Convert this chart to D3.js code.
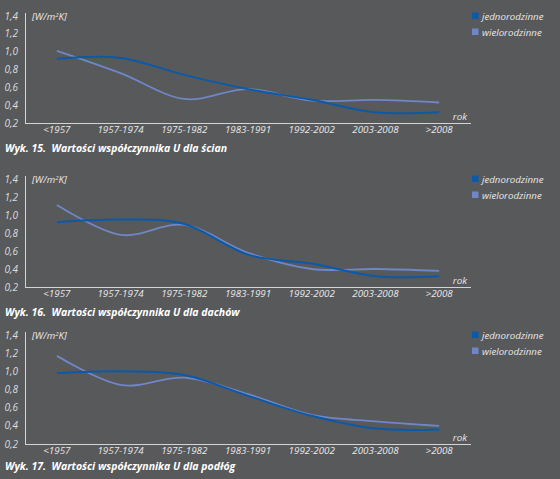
<!DOCTYPE html>
<html><head><meta charset="utf-8">
<script src="https://cdn.jsdelivr.net/npm/d3@7"></script>
<style>
html,body{margin:0;padding:0;background:#58595b;}
svg{display:block;}
text{font-family:"Open Sans",sans-serif;}
</style></head>
<body>
<script>
const categories = ["<1957","1957-1974","1975-1982","1983-1991","1992-2002","2003-2008",">2008"];
const yTicks = [0.2,0.4,0.6,0.8,1.0,1.2,1.4];
const seriesNames = ["jednorodzinne","wielorodzinne"];
const titles = [
  "Wyk. 15.  Wartości współczynnika U dla ścian",
  "Wyk. 16.  Wartości współczynnika U dla dachów",
  "Wyk. 17.  Wartości współczynnika U dla podłóg"
];
const wallsJedno  = [0.92,0.93,0.74,0.58,0.46,0.32,0.32];
const wallsWielo  = [1.01,0.76,0.47,0.58,0.45,0.46,0.43];
const roofsJedno  = [0.92,0.95,0.90,0.56,0.46,0.32,0.32];
const roofsWielo  = [1.11,0.78,0.89,0.58,0.40,0.40,0.38];
const floorsJedno = [0.98,1.00,0.96,0.73,0.51,0.37,0.36];
const floorsWielo = [1.17,0.85,0.93,0.75,0.52,0.45,0.40];

const charts = [
  {title:titles[0], jedno:wallsJedno, wielo:wallsWielo, top:16, bottom:123, titleY:152},
  {title:titles[1], jedno:roofsJedno, wielo:roofsWielo, top:179, bottom:287, titleY:316},
  {title:titles[2], jedno:floorsJedno, wielo:floorsWielo, top:335, bottom:444, titleY:470}
];
const colors = {jedno:"#0b5aa9", wielo:"#6f87c6"};
const W=560,H=479;
const svg = d3.select("body").append("svg").attr("width",W).attr("height",H);
svg.append("rect").attr("width",W).attr("height",H).attr("fill","#58595b");

const x = d3.scalePoint().domain(categories).range([25,471]).padding(0.5);
const fmt = v => d3.format(".1f")(v).replace(".",",");

charts.forEach(c=>{
  const y = d3.scaleLinear().domain([0.2,1.4]).range([c.bottom,c.top]);
  const g = svg.append("g");
  g.append("line").attr("x1",25.5).attr("x2",25.5).attr("y1",c.top-3).attr("y2",c.bottom)
    .attr("stroke","#d4d4d4").attr("stroke-width",1);
  g.append("line").attr("x1",25).attr("x2",471).attr("y1",c.bottom+0.5).attr("y2",c.bottom+0.5)
    .attr("stroke","#d4d4d4").attr("stroke-width",1);
  g.selectAll(".yt").data(yTicks).enter().append("text")
    .attr("x",18).attr("y",d=>y(d)+3.5).attr("text-anchor","end")
    .attr("font-size",10).attr("font-style","italic").attr("fill","#dcdcdc").text(fmt);
  g.selectAll(".xt").data(categories).enter().append("text")
    .attr("x",d=>x(d)).attr("y",c.bottom+10).attr("text-anchor","middle")
    .attr("font-size",9.8).attr("font-style","italic").attr("fill","#e8e8e8").text(d=>d);
  const u = g.append("text").attr("x",32).attr("y",c.top+4).attr("font-size",9.8)
    .attr("font-style","italic").attr("fill","#e8e8e8");
  u.append("tspan").text("[W/m");
  u.append("tspan").attr("font-size",6).attr("dy",-3).text("2");
  u.append("tspan").attr("dy",3).text("K]");
  g.append("text").attr("x",467).attr("y",c.bottom-3).attr("text-anchor","end")
    .attr("font-size",9.8).attr("font-style","italic").attr("fill","#e8e8e8").text("rok");
  const line = d3.line().x((d,i)=>x(categories[i])).y(d=>y(d)).curve(d3.curveCardinal.tension(0));
  g.append("path").attr("d",line(c.wielo)).attr("fill","none").attr("stroke",colors.wielo).attr("stroke-width",1.8);
  g.append("path").attr("d",line(c.jedno)).attr("fill","none").attr("stroke",colors.jedno).attr("stroke-width",2);
  [["jedno",0],["wielo",1]].forEach(([k,i])=>{
    const cy = c.top + i*16;
    g.append("rect").attr("x",472).attr("y",cy-3.5).attr("width",6.5).attr("height",6.5).attr("fill",colors[k]);
    g.append("text").attr("x",482).attr("y",cy+3.5).attr("font-size",9.7).attr("font-style","italic")
      .attr("fill","#e8e8e8").text(seriesNames[i]);
  });
  g.append("text").attr("x",5).attr("y",c.titleY).attr("font-size",10.5).attr("font-weight","bold")
    .attr("font-style","italic").attr("fill","#ffffff").attr("xml:space","preserve").text(c.title);
});
</script>
</body></html>
